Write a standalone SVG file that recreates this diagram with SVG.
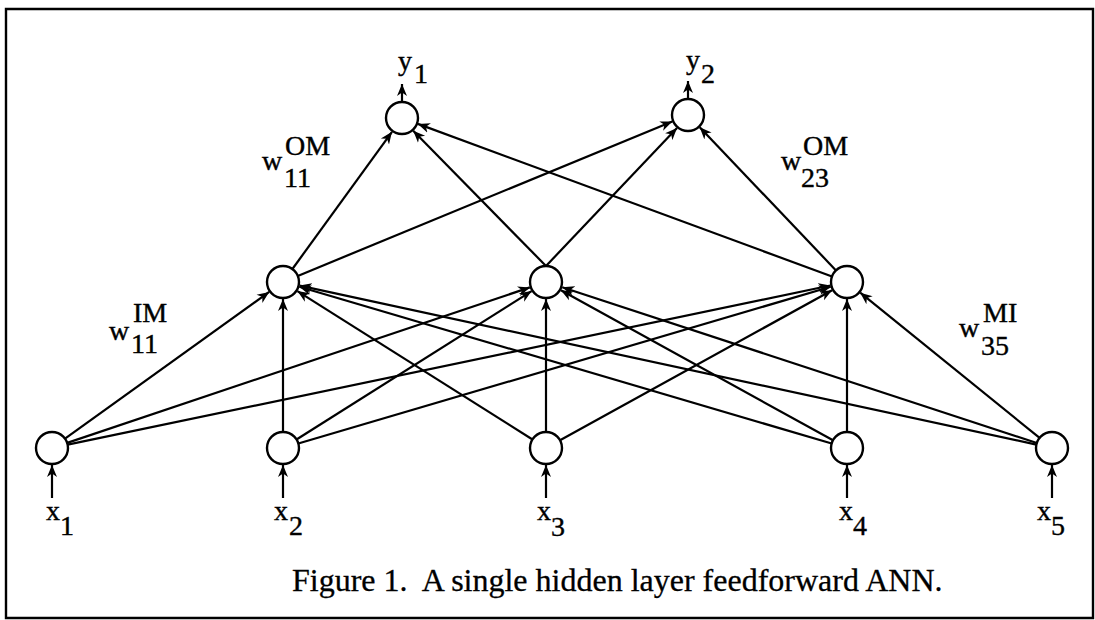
<svg xmlns="http://www.w3.org/2000/svg" width="1095" height="620" viewBox="0 0 1095 620">
<style>
  .node{fill:#fff;stroke:#000;stroke-width:2.4}
  .edge{stroke:#000;stroke-width:2.2;fill:none;marker-end:url(#ah)}
  .lbl{font-family:"Liberation Serif","Times New Roman",serif;font-size:28px;fill:#000;stroke:#000;stroke-width:0.4}
  .cap{font-family:"Liberation Serif","Times New Roman",serif;font-size:32px;fill:#000;stroke:#000;stroke-width:0.3}
  .frame{fill:none;stroke:#000;stroke-width:2.4}
</style>
<defs>
  <marker id="ah" markerUnits="userSpaceOnUse" markerWidth="14" markerHeight="12" refX="12" refY="6" orient="auto">
    <path d="M0,1 L12,6 L0,11 L3.5,6 Z" fill="#000"/>
  </marker>
</defs>
<rect width="1095" height="620" fill="#fff"/>
<path class="frame" d="M1093,9 H6 V618 H1093 Z"/>

<g id="connectors">
  <!-- input -> hidden -->
  <line class="edge" x1="65" y1="438.7" x2="269.2" y2="291.9"/>
  <line class="edge" x1="67.2" y1="442.9" x2="529.9" y2="287.4"/>
  <line class="edge" x1="67.7" y1="444.7" x2="830.4" y2="285.5"/>
  <line class="edge" x1="283" y1="432" x2="283" y2="299"/>
  <line class="edge" x1="296.5" y1="439.5" x2="531.6" y2="291.1"/>
  <line class="edge" x1="298.3" y1="443.5" x2="830.7" y2="286.8"/>
  <line class="edge" x1="532.5" y1="439.5" x2="297.4" y2="291.1"/>
  <line class="edge" x1="546" y1="432" x2="546" y2="299"/>
  <line class="edge" x1="560" y1="440.3" x2="832.1" y2="290.2"/>
  <line class="edge" x1="831.7" y1="443.5" x2="299.3" y2="286.8"/>
  <line class="edge" x1="833" y1="440.3" x2="560.9" y2="290.2"/>
  <line class="edge" x1="847" y1="432" x2="847" y2="299"/>
  <line class="edge" x1="1036.4" y1="444.6" x2="299.6" y2="285.6"/>
  <line class="edge" x1="1036.8" y1="443" x2="562.2" y2="287.3"/>
  <line class="edge" x1="1039.6" y1="437.9" x2="860.2" y2="292.7"/>
  <!-- hidden -> output -->
  <line class="edge" x1="292.4" y1="269" x2="392" y2="131.8"/>
  <line class="edge" x1="297.8" y1="275.9" x2="672.3" y2="121.5"/>
  <line class="edge" x1="546" y1="266" x2="413.2" y2="130.8"/>
  <line class="edge" x1="546" y1="266" x2="677" y2="128"/>
  <line class="edge" x1="832" y1="276.5" x2="417.9" y2="123.9"/>
  <line class="edge" x1="836" y1="270.4" x2="699.7" y2="127.3"/>
  <!-- external inputs -->
  <line class="edge" x1="52" y1="498" x2="52" y2="465"/>
  <line class="edge" x1="283" y1="498" x2="283" y2="465"/>
  <line class="edge" x1="546" y1="498" x2="546" y2="465"/>
  <line class="edge" x1="847" y1="498" x2="847" y2="465"/>
  <line class="edge" x1="1052" y1="498" x2="1052" y2="465"/>
  <!-- external outputs -->
  <line class="edge" x1="402" y1="102" x2="402" y2="84"/>
  <line class="edge" x1="688" y1="99" x2="688" y2="81"/>
</g>

<g id="out1"><circle class="node" cx="402" cy="118" r="16"/><text class="lbl" x="398" y="70">y</text><text class="lbl" x="414" y="83">1</text></g>
<g id="out2"><circle class="node" cx="688" cy="115" r="16"/><text class="lbl" x="686" y="69">y</text><text class="lbl" x="701" y="83">2</text></g>

<g id="hid1"><circle class="node" cx="283" cy="282" r="16"/></g>
<g id="hid2"><circle class="node" cx="546" cy="282" r="16"/></g>
<g id="hid3"><circle class="node" cx="847" cy="282" r="16"/></g>

<g id="in1"><circle class="node" cx="52" cy="448" r="16"/><text class="lbl" x="46" y="520">x</text><text class="lbl" x="60" y="535">1</text></g>
<g id="in2"><circle class="node" cx="283" cy="448" r="16"/><text class="lbl" x="274" y="520">x</text><text class="lbl" x="289" y="535">2</text></g>
<g id="in3"><circle class="node" cx="546" cy="448" r="16"/><text class="lbl" x="537" y="520">x</text><text class="lbl" x="551" y="536">3</text></g>
<g id="in4"><circle class="node" cx="847" cy="448" r="16"/><text class="lbl" x="839" y="520">x</text><text class="lbl" x="853" y="535">4</text></g>
<g id="in5"><circle class="node" cx="1052" cy="448" r="16"/><text class="lbl" x="1037" y="520">x</text><text class="lbl" x="1051" y="535">5</text></g>

<g id="labels">
  <text class="lbl" x="262" y="170">w</text><text class="lbl" x="285" y="155">OM</text><text class="lbl" x="284" y="187">11</text>
  <text class="lbl" x="781" y="170">w</text><text class="lbl" x="803" y="155">OM</text><text class="lbl" x="801" y="187">23</text>
  <text class="lbl" x="109" y="340">w</text><text class="lbl" x="133" y="322">IM</text><text class="lbl" x="131" y="353">11</text>
  <text class="lbl" x="959" y="337">w</text><text class="lbl" x="983" y="322">MI</text><text class="lbl" x="981" y="355">35</text>
</g>

<text class="cap" x="292" y="591" xml:space="preserve">Figure 1.  A single hidden layer feedforward ANN.</text>
</svg>
